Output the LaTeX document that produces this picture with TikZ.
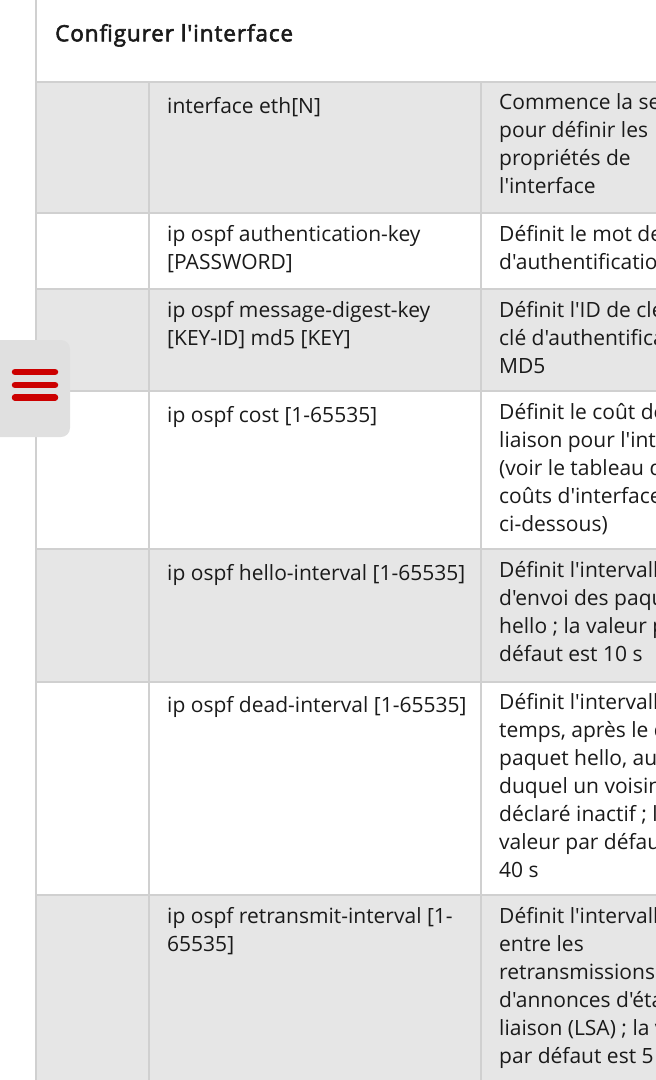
\documentclass[tikz,border=0pt]{standalone}
\usepackage{fontspec}
\setmainfont{Open Sans}[Ligatures=TeXOff]
\newfontfamily\titlefont{Open Sans}[Ligatures=TeXOff,FakeBold=2.5,LetterSpace=4]
\definecolor{rowgrey}{HTML}{E6E6E6}
\definecolor{rule}{HTML}{D0D0D0}
\definecolor{btn}{HTML}{E0E0E0}
\definecolor{menured}{HTML}{CC0000}
\definecolor{txt}{HTML}{1A1A1A}
\begin{document}
\begin{tikzpicture}[x=1pt,y=-1pt,
  cell/.style={anchor=north west,inner sep=0pt,align=left,text=txt,
    font=\fontsize{21}{28}\selectfont,execute at begin node=\strut},
  titletext/.style={anchor=north west,inner sep=0pt,text=txt,
    font=\titlefont\fontsize{22.5}{28}\selectfont,execute at begin node=\strut},
  gridline/.style={draw=rule,line width=1.6pt},
  bar/.style={draw=menured,line width=6.5pt,line cap=round}]
\useasboundingbox (0,0) rectangle (656,1080);
\clip (0,0) rectangle (656,1080);
% shaded rows
\fill[rowgrey] (36,82) rectangle (656,213);
\fill[rowgrey] (36,289) rectangle (656,391);
\fill[rowgrey] (36,549) rectangle (656,682);
\fill[rowgrey] (36,895) rectangle (656,1080);
% horizontal rules
\foreach \yy in {82,213,289,391,549,682,895}
  \draw[gridline] (36,\yy) -- (656,\yy);
% vertical rules
\draw[gridline] (36,0) -- (36,1080);
\draw[gridline] (149,82) -- (149,1080);
\draw[gridline] (481,82) -- (481,1080);
% title
\node[titletext] (title) at (55,21.5) {Configurer l'interface};
% middle column
\node[cell] (c1) at (167,93.8) {interface eth[N]};
\node[cell] (c2) at (167,224.8) {ip ospf authentication-key\\\strut [PASSWORD]};
\node[cell] (c3) at (167,300.8) {ip ospf message-digest-key\\\strut [KEY-ID] md5 [KEY]};
\node[cell] (c4) at (167,402.8) {ip ospf cost [1-65535]};
\node[cell] (c5) at (167,560.8) {ip ospf hello-interval [1-65535]};
\node[cell] (c6) at (167,692.8) {ip ospf dead-interval [1-65535]};
\node[cell] (c7) at (167,906.8) {ip ospf retransmit-interval [1-\\\strut 65535]};
% right column
\node[cell] (d1) at (499,93.8) {Commence la section\\\strut pour définir les\\\strut propriétés de\\\strut l'interface};
\node[cell] (d2) at (499,224.8) {Définit le mot de passe\\\strut d'authentification};
\node[cell] (d3) at (499,300.8) {Définit l'ID de clé et la\\\strut clé d'authentification\\\strut MD5};
\node[cell] (d4) at (499,402.8) {Définit le coût de la\\\strut liaison pour l'interface\\\strut (voir le tableau des\\\strut coûts d'interface\\\strut ci-dessous)};
\node[cell] (d5) at (499,560.8) {Définit l'intervalle\\\strut d'envoi des paquets\\\strut hello ; la valeur par\\\strut défaut est 10 s};
\node[cell] (d6) at (499,692.8) {Définit l'intervalle de\\\strut temps, après le dernier\\\strut paquet hello, au bout\\\strut duquel un voisin est\\\strut déclaré inactif ; la\\\strut valeur par défaut est\\\strut 40 s};
\node[cell] (d7) at (499,906.8) {Définit l'intervalle\\\strut entre les\\\strut retransmissions\\\strut d'annonces d'état de\\\strut liaison (LSA) ; la valeur\\\strut par défaut est 5 s};
% menu button
\fill[btn,rounded corners=9pt] (-12,340) rectangle (70,437);
\draw[bar] (15,372) -- (55,372);
\draw[bar] (15,385) -- (55,385);
\draw[bar] (15,397.5) -- (55,397.5);
\end{tikzpicture}
\end{document}
